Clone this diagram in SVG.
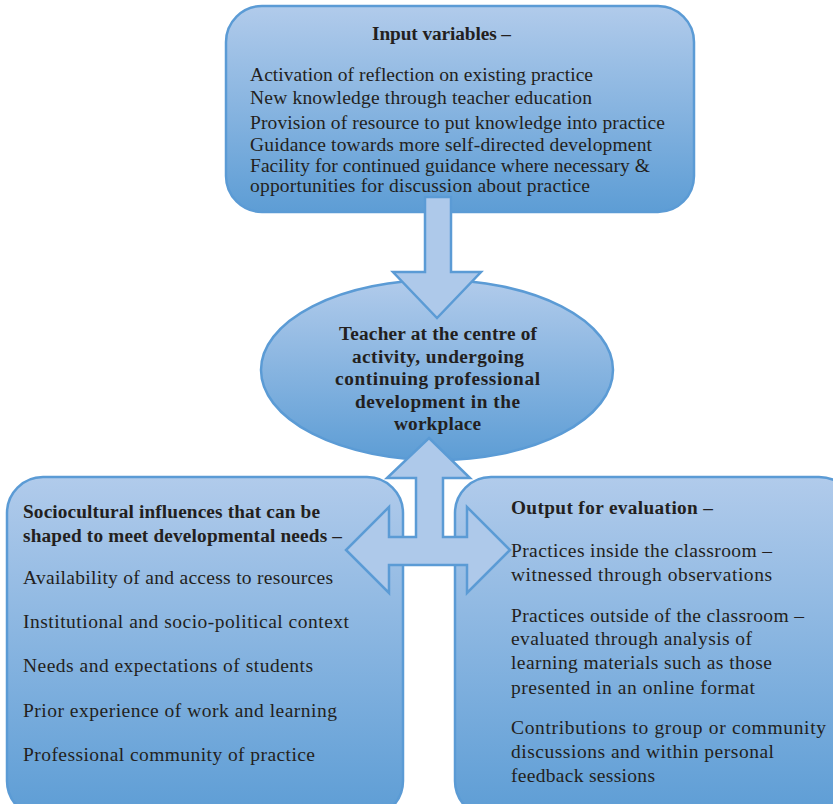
<svg xmlns="http://www.w3.org/2000/svg" width="833" height="804" viewBox="0 0 833 804">
<defs>
<linearGradient id="g" x1="0" y1="0" x2="0" y2="1">
<stop offset="0" stop-color="#b1cbeb"/>
<stop offset="1" stop-color="#5d9dd5"/>
</linearGradient>
<style>
.box{fill:url(#g);stroke:#5b9bd5;stroke-width:2.5}
.arr{fill:#aec9ea;stroke:#5b9bd5;stroke-width:2.5;stroke-linejoin:miter}
text{font-family:"Liberation Serif","Times New Roman",serif;fill:#231f20;font-size:19.5px}
.b{font-weight:bold;font-size:19.3px}
.c{text-anchor:middle}
</style>
</defs>
<rect width="833" height="804" fill="#ffffff"/>
<g id="input">
<rect class="box" x="226" y="6" width="468" height="206" rx="36" ry="36"/>
<text class="b c" x="441.5" y="40" textLength="139" lengthAdjust="spacing">Input variables –</text>
<text x="250" y="81" textLength="343" lengthAdjust="spacing">Activation of reflection on existing practice</text>
<text x="250" y="104" textLength="342" lengthAdjust="spacing">New knowledge through teacher education</text>
<text x="250" y="129" textLength="415" lengthAdjust="spacing">Provision of resource to put knowledge into practice</text>
<text x="250" y="151" textLength="402" lengthAdjust="spacing">Guidance towards more self-directed development</text>
<text x="250" y="172" textLength="400" lengthAdjust="spacing">Facility for continued guidance where necessary &amp;</text>
<text x="250" y="192" textLength="340" lengthAdjust="spacing">opportunities for discussion about practice</text>
</g>
<g id="sociocultural">
<rect class="box" x="7" y="477" width="396" height="340" rx="36" ry="36"/>
<text class="b" x="23" y="518" textLength="297" lengthAdjust="spacing">Sociocultural influences that can be</text>
<text class="b" x="23" y="542" textLength="319" lengthAdjust="spacing">shaped to meet developmental needs –</text>
<text x="23" y="584" textLength="310" lengthAdjust="spacing">Availability of and access to resources</text>
<text x="23" y="628" textLength="326" lengthAdjust="spacing">Institutional and socio-political context</text>
<text x="23" y="672" textLength="290" lengthAdjust="spacing">Needs and expectations of students</text>
<text x="23" y="717" textLength="314" lengthAdjust="spacing">Prior experience of work and learning</text>
<text x="23" y="761" textLength="292" lengthAdjust="spacing">Professional community of practice</text>
</g>
<g id="output">
<rect class="box" x="455" y="477" width="400" height="340" rx="36" ry="36"/>
<text class="b" x="511" y="514" textLength="202" lengthAdjust="spacing">Output for evaluation –</text>
<text x="511" y="557" textLength="261" lengthAdjust="spacing">Practices inside the classroom –</text>
<text x="511" y="581" textLength="261" lengthAdjust="spacing">witnessed through observations</text>
<text x="511" y="622" textLength="293" lengthAdjust="spacing">Practices outside of the classroom –</text>
<text x="511" y="645" textLength="241" lengthAdjust="spacing">evaluated through analysis of</text>
<text x="511" y="669" textLength="261" lengthAdjust="spacing">learning materials such as those</text>
<text x="511" y="694" textLength="244" lengthAdjust="spacing">presented in an online format</text>
<text x="511" y="734" textLength="315" lengthAdjust="spacing">Contributions to group or community</text>
<text x="511" y="758" textLength="263" lengthAdjust="spacing">discussions and within personal</text>
<text x="511" y="782" textLength="144" lengthAdjust="spacing">feedback sessions</text>
</g>
<g id="teacher">
<ellipse class="box" cx="437" cy="370" rx="176" ry="90"/>
</g>
<g id="connectors">
<polygon class="arr" points="425,197 451,197 451,272 481,272 437,318 393,272 425,272"/>
<polygon class="arr" points="429,438 470,478 443,478 443,537 467,537 467,507 510,550 467,593 467,565 389,565 389,593 346,550 389,507 389,537 416,537 416,478 387,478"/>
</g>
<g id="teacher-label">
<text class="b c" x="438" y="340" textLength="198" lengthAdjust="spacing">Teacher at the centre of</text>
<text class="b c" x="438" y="363" textLength="172" lengthAdjust="spacing">activity, undergoing</text>
<text class="b c" x="437.5" y="385" textLength="205" lengthAdjust="spacing">continuing professional</text>
<text class="b c" x="437.5" y="408" textLength="165" lengthAdjust="spacing">development in the</text>
<text class="b c" x="437.5" y="430" textLength="87" lengthAdjust="spacing">workplace</text>
</g>
</svg>
